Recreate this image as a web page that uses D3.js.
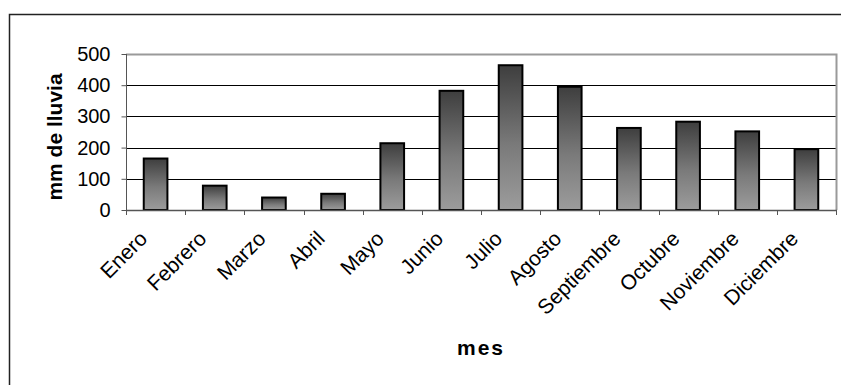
<!DOCTYPE html>
<html>
<head>
<meta charset="utf-8">
<script src="https://cdn.jsdelivr.net/npm/d3@7"></script>
<style>
  body { margin: 0; background: #fff; }
  svg { display: block; font-family: "Liberation Sans", Arial, sans-serif; }
</style>
</head>
<body>
<svg width="841" height="385"></svg>
<script>
var meses = ["Enero", "Febrero", "Marzo", "Abril", "Mayo", "Junio", "Julio",
             "Agosto", "Septiembre", "Octubre", "Noviembre", "Diciembre"];
var lluvia = [165, 78, 40, 52, 214, 382, 464, 395, 263, 283, 252, 195];
var yTicks = [0, 100, 200, 300, 400, 500];

var svg = d3.select("svg"),
    pLeft = 126, pRight = 836, pTop = 54, pBottom = 210;

var x = d3.scaleBand()
    .domain(meses)
    .range([pLeft, pRight])
    .paddingInner(0.6)
    .paddingOuter(0.3);

var y = d3.scaleLinear()
    .domain([0, 500])
    .range([pBottom, pTop]);

// outer chart frame (top and left edges visible)
svg.append("path")
    .attr("d", "M9.5,385V14.5H841")
    .attr("fill", "none")
    .attr("stroke", "#222")
    .attr("stroke-width", 1.5);

var defs = svg.append("defs");
var grad = defs.append("linearGradient")
    .attr("id", "barGrad")
    .attr("x1", 0).attr("y1", 0).attr("x2", 0).attr("y2", 1);
grad.append("stop").attr("offset", "0%").attr("stop-color", "#3e3e3e");
grad.append("stop").attr("offset", "55%").attr("stop-color", "#7a7a7a");
grad.append("stop").attr("offset", "100%").attr("stop-color", "#9c9c9c");

// gridlines
svg.append("g")
  .selectAll("line")
  .data(yTicks.filter(function(d) { return d > 0 && d < 500; }))
  .enter().append("line")
    .attr("x1", pLeft).attr("x2", pRight)
    .attr("y1", function(d) { return Math.round(y(d)) + 0.5; })
    .attr("y2", function(d) { return Math.round(y(d)) + 0.5; })
    .attr("stroke", "#000");

// plot area border (top + right)
svg.append("path")
    .attr("d", "M" + pLeft + "," + (Math.round(y(500)) + 0.5) + "H" + (pRight + 0.5) + "V" + pBottom)
    .attr("fill", "none")
    .attr("stroke", "#9a9a9a")
    .attr("stroke-width", 2);

// bars
svg.append("g")
  .selectAll("rect")
  .data(meses)
  .enter().append("rect")
    .attr("x", function(d) { return x(d); })
    .attr("y", function(d, i) { return y(lluvia[i]); })
    .attr("width", x.bandwidth())
    .attr("height", function(d, i) { return pBottom - y(lluvia[i]); })
    .attr("fill", "url(#barGrad)")
    .attr("stroke", "#000")
    .attr("stroke-width", 2);

// y axis
var yAxis = svg.append("g")
    .attr("transform", "translate(" + (pLeft + 0.5) + ",0)")
    .call(d3.axisLeft(y).tickValues(yTicks).tickSize(5).tickPadding(11));
yAxis.select(".domain").attr("stroke", "#555").attr("d", "M0," + pTop + "V" + (pBottom + 5));
yAxis.selectAll(".tick line").attr("stroke", "#555");
yAxis.selectAll("text")
    .attr("font-size", 20)
    .attr("font-family", "Liberation Sans, Arial, sans-serif")
    .attr("fill", "#000");

// x axis: ticks at category boundaries
var step = x.step();
var bounds = d3.range(meses.length + 1).map(function(i) { return pLeft + i * step; });
svg.append("line")
    .attr("x1", pLeft).attr("x2", pRight + 1)
    .attr("y1", pBottom + 0.5).attr("y2", pBottom + 0.5)
    .attr("stroke", "#555").attr("stroke-width", 1.5);
svg.append("g")
  .selectAll("line")
  .data(bounds)
  .enter().append("line")
    .attr("x1", function(d) { return Math.round(d) + 0.5; })
    .attr("x2", function(d) { return Math.round(d) + 0.5; })
    .attr("y1", pBottom).attr("y2", pBottom + 5)
    .attr("stroke", "#555");

svg.append("g")
  .selectAll("text")
  .data(meses)
  .enter().append("text")
    .attr("transform", function(d) {
      return "translate(" + (x(d) + x.bandwidth() / 2 - 7) + "," + 240 + ") rotate(-45)";
    })
    .attr("text-anchor", "end")
    .attr("font-size", 21)
    .text(function(d) { return d; });

// axis titles
svg.append("text")
    .attr("transform", "translate(62," + 137 + ") rotate(-90)")
    .attr("text-anchor", "middle")
    .attr("font-size", 21)
    .attr("font-weight", "bold")
    .text("mm de lluvia");

svg.append("text")
    .attr("x", 481)
    .attr("y", 355)
    .attr("text-anchor", "middle")
    .attr("font-size", 21)
    .attr("font-weight", "bold")
    .attr("letter-spacing", 2)
    .text("mes");
</script>
</body>
</html>
